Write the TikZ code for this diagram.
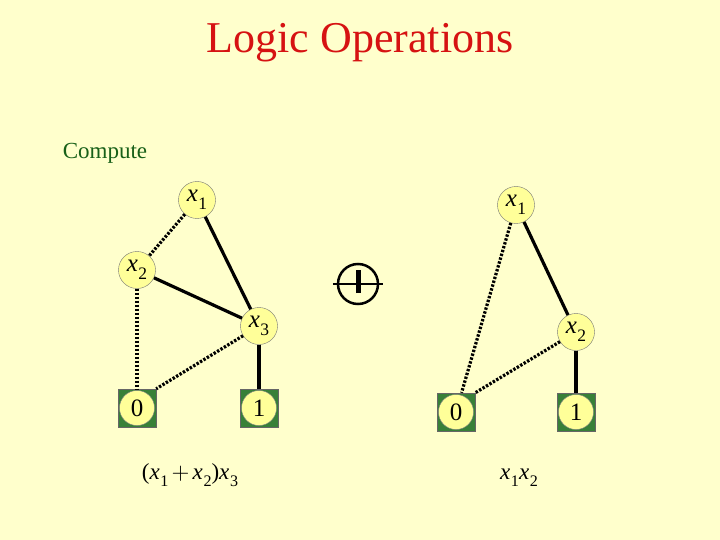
\documentclass[tikz,border=0pt]{standalone}
\usepackage{mathptmx}
\usepackage{fontspec}
\setmainfont{Liberation Serif}
\usepackage{tikz}
\newcommand{\xsub}[1]{\textit{x}\kern0.6pt\raisebox{-0.3em}{\scalebox{0.7}{#1}}}

\definecolor{slidebg}{RGB}{255,255,204}
\definecolor{varfill}{RGB}{255,255,153}
\definecolor{termgreen}{RGB}{56,128,56}
\definecolor{titlered}{RGB}{214,18,18}
\definecolor{computegreen}{RGB}{24,96,24}

\begin{document}
\begin{tikzpicture}[x=1pt, y=-1pt,
  var/.style={circle, draw=black!55, thin, fill=varfill, minimum size=37pt, inner sep=0pt, font=\fontsize{25}{25}\selectfont},
  term/.style={rectangle, draw=black!60, thin, fill=termgreen, minimum size=38pt, inner sep=0pt, font=\fontsize{25}{25}\selectfont,
    path picture={\filldraw[fill=varfill, draw=black!50, thin] (path picture bounding box.center) circle (17.5pt);}},
  hi/.style={line width=3.2pt},
  lo/.style={line width=3.2pt, dash pattern=on 2.4pt off 1.6pt}]
% Slide background
\path[use as bounding box, fill=slidebg] (0,0) rectangle (720,540);

% Title and heading
\node[text=titlered, font=\fontsize{44}{48}\selectfont] (title) at (360,43) {Logic Operations};
\node[text=computegreen, font=\fontsize{23}{26}\selectfont] (compute) at (105,153) {Compute};

% First graph: (x1 + x2) x3
\node[var] (a1) at (197,200) {\xsub{1}};
\node[var] (a2) at (137,270) {\xsub{2}};
\node[var] (a3) at (259,326) {\xsub{3}};
\node[term] (a0) at (137,408) {0};
\node[term] (aone) at (259,408) {1};
\draw[lo] (a1) -- (a2);
\draw[hi] (a1) -- (a3);
\draw[hi] (a2) -- (a3);
\draw[lo] (a2) -- (a0);
\draw[lo] (a3) -- (a0.north east);
\draw[hi] (a3) -- (aone);
\node[font=\fontsize{23}{23}\selectfont] (alabel) at (190,475) {(\xsub{1}${}+{}$\xsub{2})\xsub{3}};

% Operator
\node[circle, draw, line width=2.5pt, minimum size=40pt, inner sep=0pt] (xor) at (358,284) {};
\draw[line width=2pt] ([xshift=-4pt]xor.west) -- ([xshift=4pt]xor.east);
\draw[line width=5pt] ([yshift=-9pt]xor.center) -- ([yshift=14pt]xor.center);

% Second graph: x1 x2
\node[var] (b1) at (516,205) {\xsub{1}};
\node[var] (b2) at (576,332) {\xsub{2}};
\node[term] (b0) at (456,412) {0};
\node[term] (bone) at (576,412) {1};
\draw[lo] (b1) -- (b0);
\draw[hi] (b1) -- (b2);
\draw[lo] (b2) -- (b0.north east);
\draw[hi] (b2) -- (bone);
\node[font=\fontsize{23}{23}\selectfont] (blabel) at (519,478) {\xsub{1}\xsub{2}};

\end{tikzpicture}
\end{document}
